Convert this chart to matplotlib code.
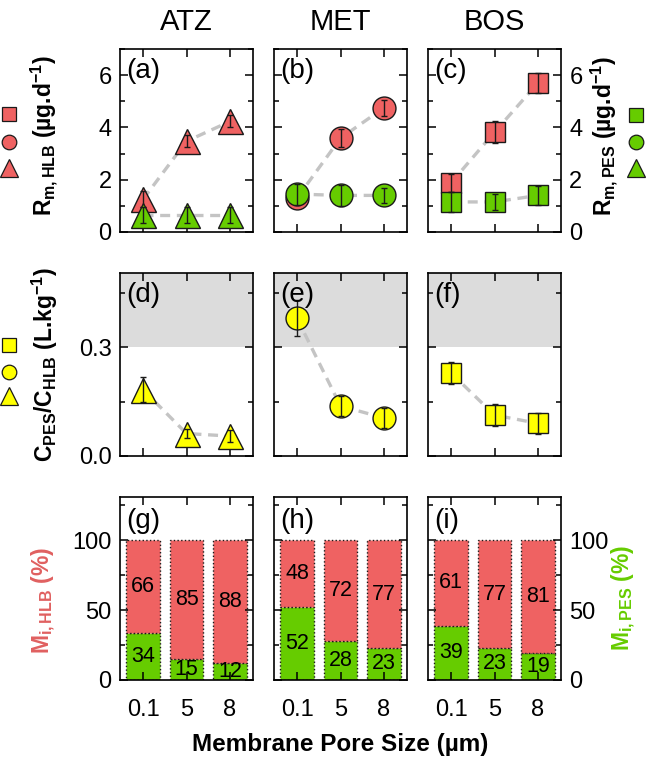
import numpy as np
import matplotlib
matplotlib.use("Agg")
import matplotlib.pyplot as plt
from matplotlib.lines import Line2D
from matplotlib.ticker import MultipleLocator

plt.rcParams['font.family'] = ['Liberation Sans', 'DejaVu Sans']
plt.rcParams['mathtext.fontset'] = 'custom'
plt.rcParams['mathtext.rm'] = 'Liberation Sans'
plt.rcParams['mathtext.it'] = 'Liberation Sans:italic'
plt.rcParams['mathtext.bf'] = 'Liberation Sans:bold'

# ---- data ----
compounds = ['ATZ', 'MET', 'BOS']
pore_labels = ['0.1', '5', '8']
markers = ['^', 'o', 's']
msizes = [18, 16.5, 14.5]

# sampling rates (ug/d)
rm_hlb_atz = [1.25, 3.47, 4.23]
rm_hlb_met = [1.3, 3.59, 4.75]
rm_hlb_bos = [1.88, 3.82, 5.7]
rm_hlb_err_atz = [0.3, 0.23, 0.23]
rm_hlb_err_met = [0.2, 0.35, 0.3]
rm_hlb_err_bos = [0.35, 0.42, 0.4]

rm_pes_atz = [0.65, 0.65, 0.65]
rm_pes_met = [1.45, 1.4, 1.4]
rm_pes_bos = [1.15, 1.15, 1.4]
rm_pes_err_atz = [0.3, 0.3, 0.3]
rm_pes_err_met = [0.4, 0.4, 0.3]
rm_pes_err_bos = [0.38, 0.3, 0.37]

# partition ratio C_PES/C_HLB (L/kg)
ratio_atz = [0.183, 0.062, 0.055]
ratio_met = [0.38, 0.138, 0.105]
ratio_bos = [0.229, 0.113, 0.09]
ratio_err_atz = [0.035, 0.012, 0.017]
ratio_err_met = [0.05, 0.028, 0.028]
ratio_err_bos = [0.03, 0.03, 0.03]

# mass fraction (%)
m_pes_atz = [34, 15, 12]
m_pes_met = [52, 28, 23]
m_pes_bos = [39, 23, 19]
m_hlb_atz = [66, 85, 88]
m_hlb_met = [48, 72, 77]
m_hlb_bos = [61, 77, 81]

rm_hlb = [rm_hlb_atz, rm_hlb_met, rm_hlb_bos]
rm_hlb_err = [rm_hlb_err_atz, rm_hlb_err_met, rm_hlb_err_bos]
rm_pes = [rm_pes_atz, rm_pes_met, rm_pes_bos]
rm_pes_err = [rm_pes_err_atz, rm_pes_err_met, rm_pes_err_bos]
ratio = [ratio_atz, ratio_met, ratio_bos]
ratio_err = [ratio_err_atz, ratio_err_met, ratio_err_bos]
m_pes = [m_pes_atz, m_pes_met, m_pes_bos]
m_hlb = [m_hlb_atz, m_hlb_met, m_hlb_bos]

RED = '#EF6262'
GREEN = '#66CC00'
YELLOW = '#FFFF00'
DASH = '#C4C4C4'
EDGE = '#1a1a1a'

W, H = 646, 768
fig = plt.figure(figsize=(W / 100, H / 100), dpi=100)


def px(l, t, w, h):
    return [l / W, 1 - (t + h) / H, w / W, h / H]


lefts = [120, 274, 428]
tops = [49, 273, 497]
aw, ah = 133, 183
x = np.arange(3)
TICK_FS = 17


def style(ax, ylim, major, minor):
    ax.set_xlim(-0.53, 2.53)
    ax.set_ylim(*ylim)
    ax.set_xticks(x)
    ax.yaxis.set_major_locator(MultipleLocator(major))
    ax.yaxis.set_minor_locator(MultipleLocator(minor))
    ax.tick_params(which='both', direction='in', top=True, right=True,
                   labelsize=TICK_FS, width=1.1)
    ax.tick_params(which='major', length=5.5)
    ax.tick_params(which='minor', length=3.5)
    ax.tick_params(axis='x', which='minor', bottom=False, top=False)
    for s in ax.spines.values():
        s.set_linewidth(1.2)
    ax.tick_params(labelleft=False, labelbottom=False)


def series(ax, vals, errs, mk, ms, fc, z):
    ax.plot(x, vals, color=DASH, lw=2.4, dashes=(3, 2), zorder=1)
    ax.plot(x, vals, ls='none', marker=mk, ms=ms, mfc=fc, mec=EDGE, mew=1.0, zorder=z)
    ax.errorbar(x, vals, yerr=errs, fmt='none', ecolor=EDGE, elinewidth=1.0,
                capsize=2.5, capthick=1.0, zorder=z + 0.5)


panel = 'abcdefghi'
for j in range(3):
    # row 1: sampling rates
    ax = fig.add_axes(px(lefts[j], tops[0], aw, ah))
    style(ax, (0, 7), 2, 1)
    series(ax, rm_hlb[j], rm_hlb_err[j], markers[j], msizes[j], RED, 3)
    series(ax, rm_pes[j], rm_pes_err[j], markers[j], msizes[j], GREEN, 5)
    ax.text(0.05, 0.95, '(%s)' % panel[j], transform=ax.transAxes, fontsize=20,
            va='top', ha='left', zorder=10)
    if j == 0:
        ax.tick_params(labelleft=True, pad=6)
    if j == 2:
        ax.tick_params(labelright=True, pad=6)

    # row 2: partition ratio
    ax = fig.add_axes(px(lefts[j], tops[1], aw, ah))
    style(ax, (0, 0.505), 0.3, 0.15)
    ax.axhspan(0.3, 0.6, color='#DCDCDC', zorder=0, lw=0)
    series(ax, ratio[j], ratio_err[j], markers[j], msizes[j], YELLOW, 3)
    ax.text(0.05, 0.95, '(%s)' % panel[3 + j], transform=ax.transAxes, fontsize=20,
            va='top', ha='left', zorder=10)
    if j == 0:
        ax.set_yticks([0, 0.3])
        ax.set_yticklabels(['0.0', '0.3'])
        ax.tick_params(labelleft=True, pad=6)

    # row 3: mass fractions
    ax = fig.add_axes(px(lefts[j], tops[2], aw, ah))
    style(ax, (0, 131), 50, 25)
    ax.bar(x, m_pes[j], width=0.78, color=GREEN, edgecolor=EDGE, lw=1.0,
           ls=':', zorder=1)
    ax.bar(x, m_hlb[j], width=0.78, bottom=m_pes[j], color=RED, edgecolor=EDGE,
           lw=1.0, ls=':', zorder=1)
    for i in range(3):
        ax.text(x[i], m_pes[j][i] / 2, str(m_pes[j][i]), ha='center', va='center',
                fontsize=15.5, zorder=5)
        ax.text(x[i], m_pes[j][i] + m_hlb[j][i] / 2, str(m_hlb[j][i]), ha='center',
                va='center', fontsize=15.5, zorder=5)
    ax.text(0.05, 0.94, '(%s)' % panel[6 + j], transform=ax.transAxes, fontsize=20,
            va='top', ha='left', zorder=10)
    ax.set_xticklabels(pore_labels)
    ax.tick_params(axis='x', labelbottom=True, pad=14)
    if j == 0:
        ax.tick_params(axis='y', labelleft=True, pad=6)
    if j == 2:
        ax.tick_params(axis='y', labelright=True, pad=6)

    fig.text((lefts[j] + aw / 2) / W, 1 - 22 / H, compounds[j], fontsize=21,
             ha='center', va='center')

# axis labels
lab = dict(rotation=90, ha='center', va='center', fontsize=16.5, fontweight='bold')
fig.text(44 / W, 1 - 136 / H, r'R$_{\mathbf{m,HLB}}$ (µg.d$^{\mathbf{-1}}$)', **lab)
fig.text(604 / W, 1 - 136 / H, r'R$_{\mathbf{m,PES}}$ (µg.d$^{\mathbf{-1}}$)', **lab)
fig.text(45 / W, 1 - 365 / H,
         r'C$_{\mathbf{PES}}$/C$_{\mathbf{HLB}}$ (L.kg$^{\mathbf{-1}}$)', **lab)
fig.text(44 / W, 1 - 600 / H, r'M$_{\mathbf{i,HLB}}$ (%)', color='#E06060', **lab)
fig.text(624 / W, 1 - 598 / H, r'M$_{\mathbf{i,PES}}$ (%)', color=GREEN, **lab)
fig.text(340 / W, 1 - 745 / H, 'Membrane Pore Size (µm)', fontsize=17.5,
         fontweight='bold', ha='center', va='center')

# marker keys beside the y labels
keys = [(9, [114, 142, 168], RED), (636, [115, 142, 168], GREEN),
        (9, [345, 372, 396], YELLOW)]
key_ms = {'s': 10, 'o': 10.5, '^': 13}
for kx, kys, fc in keys:
    for mk, ky in zip(['s', 'o', '^'], kys):
        fig.add_artist(Line2D([kx / W], [1 - ky / H], marker=mk, ms=key_ms[mk],
                              mfc=fc, mec=EDGE, mew=0.9, ls='none',
                              transform=fig.transFigure))

plt.savefig('out.png', dpi=100)
